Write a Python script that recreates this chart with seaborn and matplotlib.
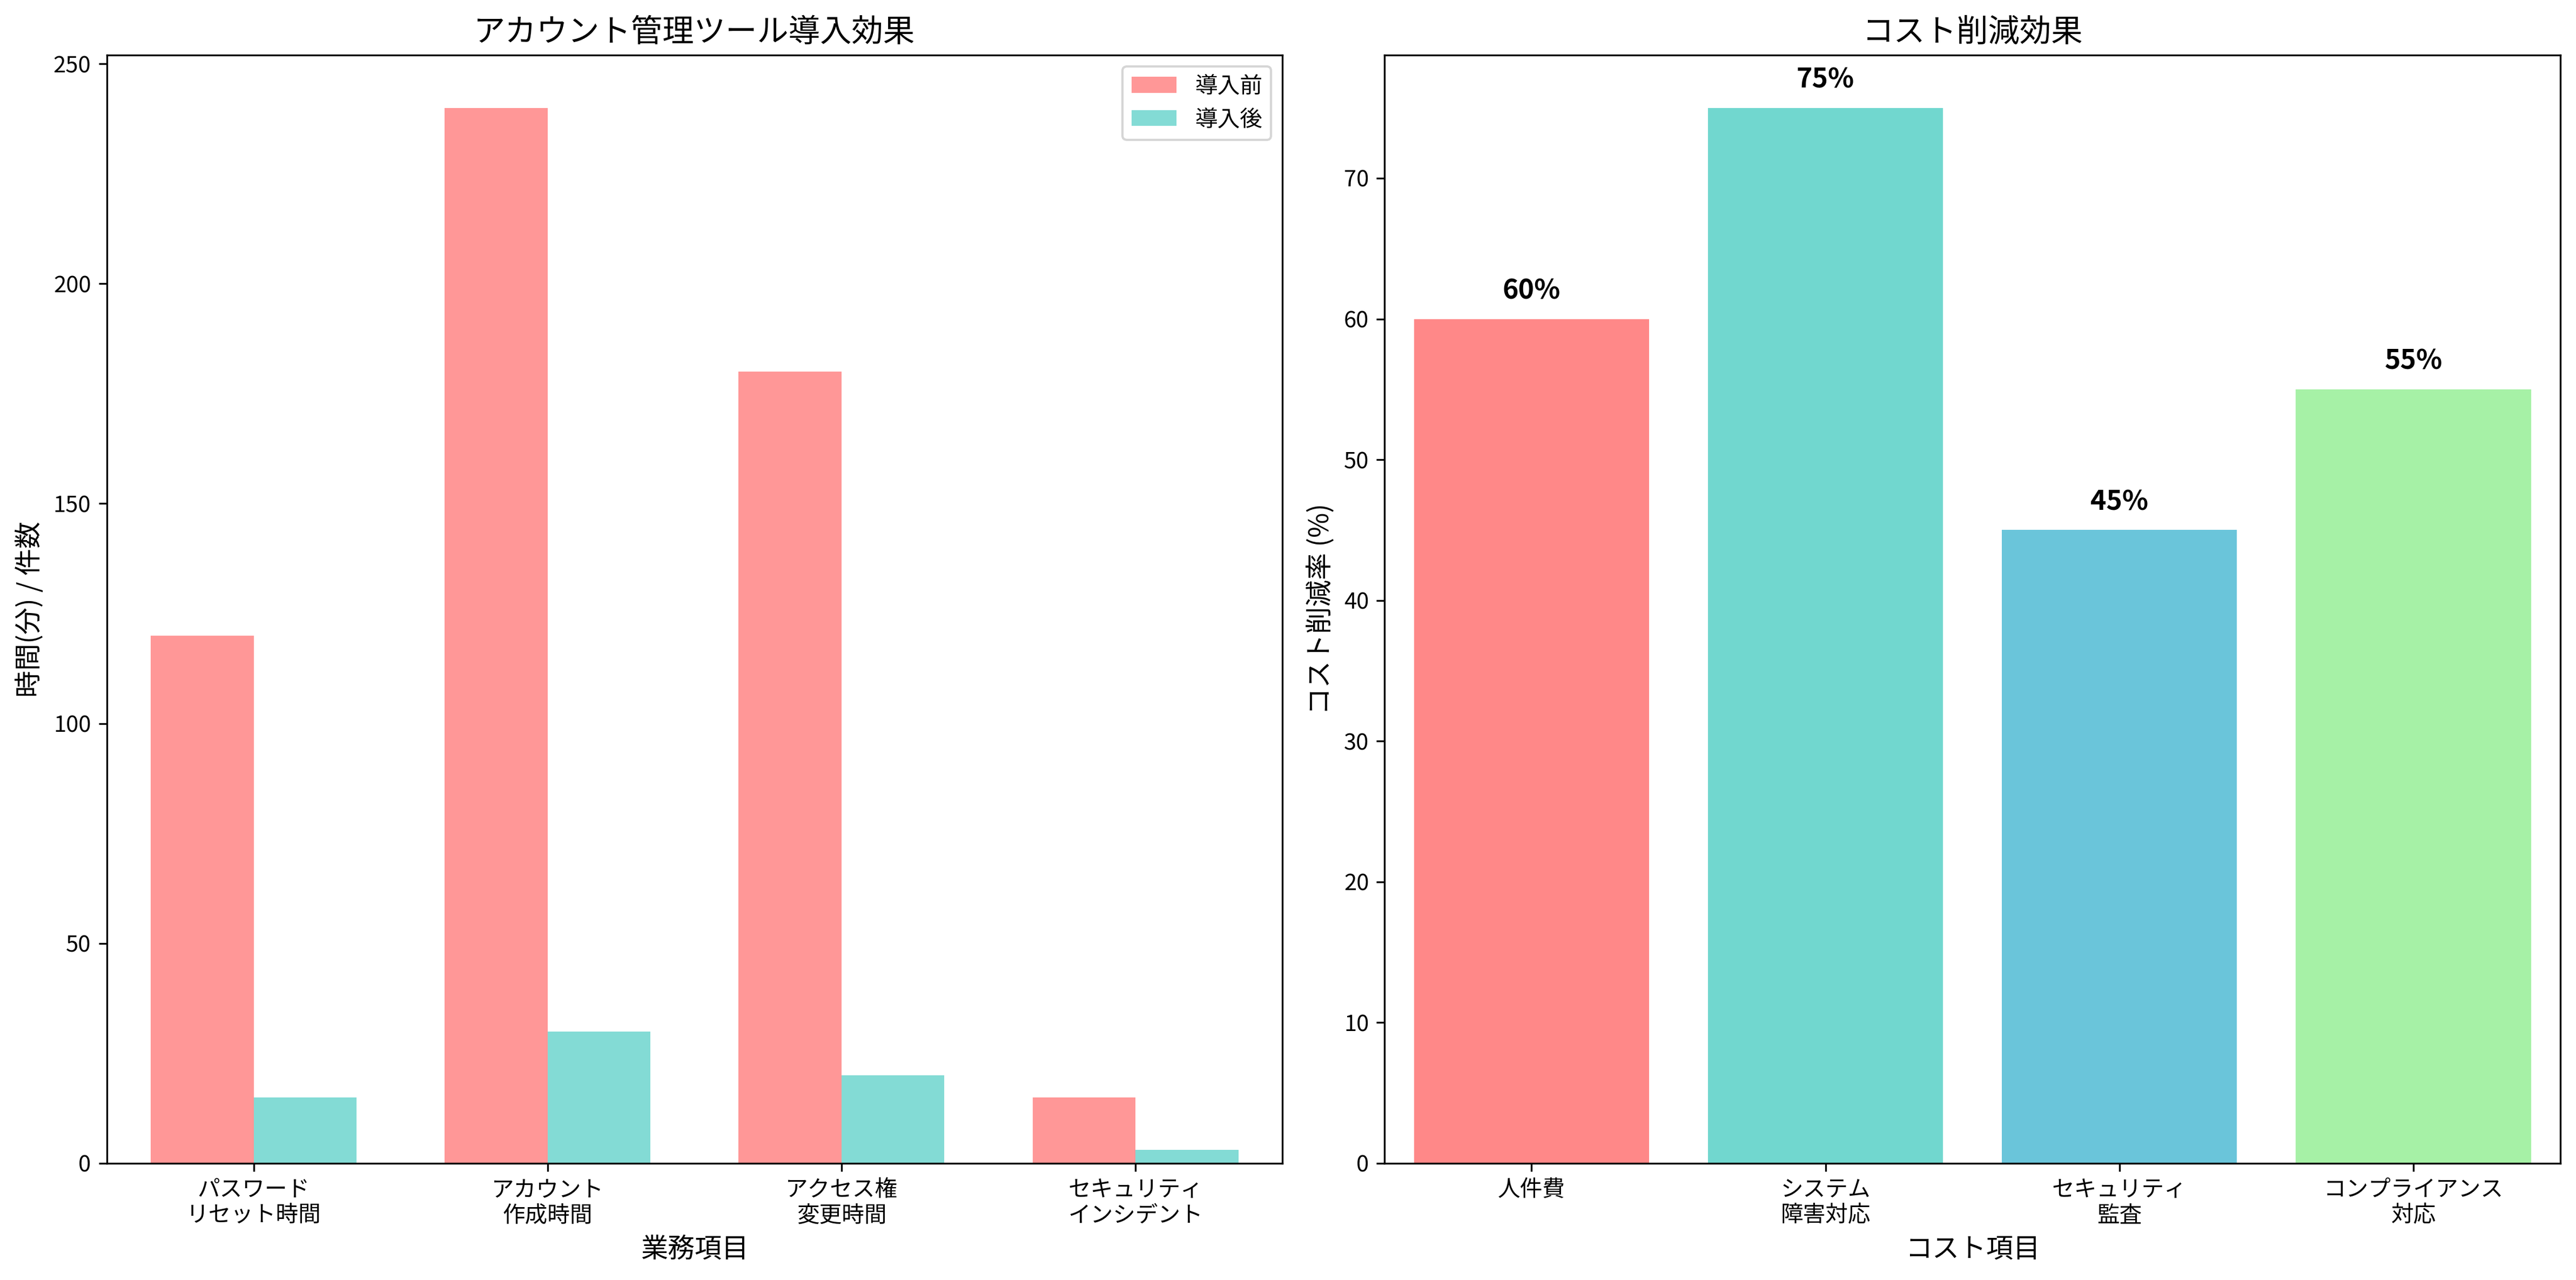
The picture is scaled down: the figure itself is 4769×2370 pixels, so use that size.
import matplotlib
matplotlib.use("Agg")
import matplotlib.pyplot as plt
import seaborn as sns
import pandas as pd

plt.rcParams["font.family"] = ["Noto Sans CJK JP", "DejaVu Sans"]

tasks = ["パスワード\nリセット時間", "アカウント\n作成時間", "アクセス権\n変更時間", "セキュリティ\nインシデント"]
before = [120, 240, 180, 15]
after = [15, 30, 20, 3]
cost_items = ["人件費", "システム\n障害対応", "セキュリティ\n監査", "コンプライアンス\n対応"]
reduction = [60, 75, 45, 55]

df = pd.DataFrame({
    "task": tasks * 2,
    "value": before + after,
    "phase": ["導入前"] * 4 + ["導入後"] * 4,
})
df2 = pd.DataFrame({"item": cost_items, "rate": reduction})

fig, (ax1, ax2) = plt.subplots(1, 2, figsize=(16, 8), dpi=300)

sns.barplot(data=df, x="task", y="value", hue="phase", ax=ax1,
            palette={"導入前": "#FF6B6B", "導入後": "#4ECDC4"},
            alpha=0.7, width=0.7, saturation=1, errorbar=None)
ax1.set_title("アカウント管理ツール導入効果", fontsize=14)
ax1.set_xlabel("業務項目", fontsize=12)
ax1.set_ylabel("時間(分) / 件数", fontsize=12)
ax1.legend(loc="upper right")

sns.barplot(data=df2, x="item", y="rate", hue="item", ax=ax2, legend=False,
            palette=["#FF6B6B", "#4ECDC4", "#45B7D1", "#90EE90"],
            alpha=0.8, width=0.8, saturation=1, errorbar=None)
for i, v in enumerate(reduction):
    ax2.text(i, v + 1, f"{v}%", ha="center", va="bottom", fontsize=12, fontweight="bold")
ax2.set_title("コスト削減効果", fontsize=14)
ax2.set_xlabel("コスト項目", fontsize=12)
ax2.set_ylabel("コスト削減率 (%)", fontsize=12)

plt.tight_layout()
fig.savefig("out.png", dpi=300, bbox_inches="tight")
